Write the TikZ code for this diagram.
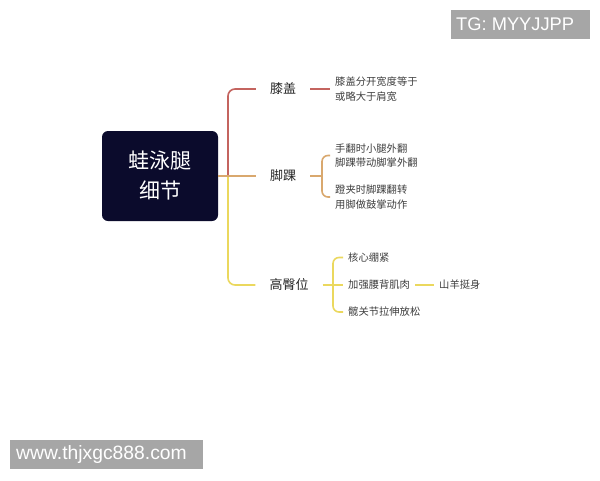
\documentclass[tikz,border=0pt]{standalone}
\usepackage{fontspec}
\setmainfont{Liberation Sans}
\newfontfamily\cjk{Noto Sans CJK SC}
\definecolor{navy}{HTML}{0B0B2C}
\definecolor{lred}{HTML}{C4645F}
\definecolor{lorange}{HTML}{D9A86E}
\definecolor{lyellow}{HTML}{EBD85E}
\definecolor{wmgray}{HTML}{A6A6A6}
\definecolor{txt}{HTML}{262626}
\definecolor{subtxt}{HTML}{3E3E3E}
\tikzset{
  rootbox/.style={fill=navy, rounded corners=6pt, minimum width=116pt, minimum height=90pt, text=white, align=center, font=\cjk\fontsize{21}{31}\selectfont},
  lbl/.style={inner xsep=14pt, inner ysep=2pt, text=txt, font=\cjk\fontsize{13}{15}\selectfont},
  sub/.style={inner xsep=5pt, inner ysep=1pt, text=subtxt, align=left, anchor=west, font=\cjk\fontsize{10.3}{14.5}\selectfont},
  redl/.style={draw=lred, line width=1.6pt},
  orgl/.style={draw=lorange, line width=1.6pt},
  yell/.style={draw=lyellow, line width=1.6pt},
  wm/.style={fill=wmgray, text=white, inner sep=0pt, anchor=north west}
}
\begin{document}
\begin{tikzpicture}[x=1pt,y=-1pt]
\useasboundingbox (0,0) rectangle (600,480);
\fill[white] (0,0) rectangle (600,480);

% root
\node[rootbox] (root) at (160,176) {蛙泳腿\\[-1pt]细节};

% level-1 labels
\node[lbl] (knee) at (283,89) {膝盖};
\node[lbl] (ankle) at (283,176) {脚踝};
\node[lbl] (hip) at (289,285) {高臀位};

% spine
\coordinate (sj) at (228,176);
\draw[redl, rounded corners=7pt] (sj) |- (knee.west);
\draw[yell, rounded corners=7pt] (sj) |- (hip.west);
\draw[orgl] (root.east) -- (ankle.west);

% knee detail
\node[sub] (kt) at (330,89) {膝盖分开宽度等于\\或略大于肩宽};
\draw[redl] (knee.east) -- (kt.west);

% ankle details
\node[sub] (a1) at (330,155.5) {手翻时小腿外翻\\脚踝带动脚掌外翻};
\node[sub] (a2) at (330,197) {蹬夹时脚踝翻转\\用脚做鼓掌动作};
\coordinate (ab) at (322,176);
\draw[orgl] (ankle.east) -- (ab);
\draw[orgl, rounded corners=6pt] (a1.west) -- (322,155.5) -- (322,197) -- (a2.west);

% hip details
\node[sub] (h1) at (343,257.5) {核心绷紧};
\node[sub] (h2) at (343,285) {加强腰背肌肉};
\node[sub] (h3) at (343,312) {髋关节拉伸放松};
\node[sub] (h4) at (434,285) {山羊挺身};
\draw[yell] (hip.east) -- (h2.west);
\draw[yell, rounded corners=6pt] (h1.west) -- (333,257.5) -- (333,312) -- (h3.west);
\draw[yell, line width=1.2pt] (h2.east) -- (h4.west);

% watermarks
\node[wm, minimum width=139pt, minimum height=29pt] (tg) at (451,10) {};
\node[text=white, font=\fontsize{18.3}{20}\selectfont, anchor=west, inner sep=0pt] (tgt) at (456,24.5) {TG: MYYJJPP};
\node[wm, minimum width=193pt, minimum height=29pt] (url) at (10,440) {};
\node[text=white, font=\fontsize{19.3}{20}\selectfont, anchor=west, inner sep=0pt] (urlt) at (16,454.5) {www.thjxgc888.com};
\end{tikzpicture}
\end{document}
